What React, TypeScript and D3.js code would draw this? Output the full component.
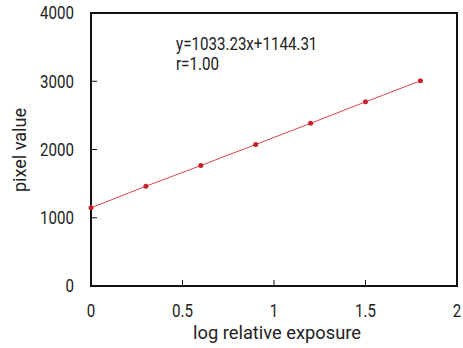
import React from 'react';
import * as d3 from 'd3';

// measured points
const exposure = [0, 0.3, 0.6, 0.9, 1.2, 1.5, 1.8];
const pixelValue = [1145, 1462, 1765, 2073, 2384, 2698, 3006];
const xTicks = [0, 0.5, 1, 1.5, 2];
const yTicks = [0, 1000, 2000, 3000, 4000];
const fitText = ['y=1033.23x+1144.31', 'r=1.00'];

const font = "Roboto, 'DejaVu Sans Condensed', sans-serif";
const ink = '#222';

// condensed-looking text: squeeze roboto horizontally
function Label({ x, y, anchor = 'start', dy, children }: any) {
    return (
        <text transform={`translate(${x},${y}) scale(0.84,1)`} dy={dy} textAnchor={anchor}
            fontSize={18} fill={ink}>{children}</text>
    );
}

function App() {
    const left = 91, right = 457, top = 13, bottom = 286;

    const x = d3.scaleLinear().domain([0, 2]).range([left, right]);
    const y = d3.scaleLinear().domain([0, 4000]).range([bottom, top]);

    const line = d3.line<number>()
        .x((d, i) => x(exposure[i]))
        .y(d => y(d));

    return (
        <svg width={463} height={348} style={{ position: 'absolute', left: 0, top: 0, fontFamily: font }}>
            <rect x={0} y={0} width={463} height={348} fill="#fff" />

            {/* frame */}
            <rect x={left} y={top} width={right - left} height={bottom - top}
                fill="none" stroke="#111" strokeWidth={2} />

            {/* ticks, drawn inward */}
            {yTicks.map(t => (
                <g key={'y' + t}>
                    <line x1={left} x2={left + 6} y1={y(t)} y2={y(t)} stroke="#111" strokeWidth={1} />
                    <Label x={74} y={y(t)} dy="0.36em" anchor="end">{t}</Label>
                </g>
            ))}
            {xTicks.map(t => (
                <g key={'x' + t}>
                    <line x1={x(t)} x2={x(t)} y1={bottom} y2={bottom - 6} stroke="#111" strokeWidth={1} />
                    <Label x={x(t)} y={317} anchor="middle">{t}</Label>
                </g>
            ))}

            <text x={193} y={339} textLength={168} lengthAdjust="spacingAndGlyphs"
                fontSize={18} fill={ink}>log relative exposure</text>
            <text transform="translate(26,192) rotate(-90)" textLength={84} lengthAdjust="spacingAndGlyphs"
                fontSize={18} fill={ink}>pixel value</text>

            {/* data */}
            <path d={line(pixelValue) || ''} fill="none" stroke="#d9464b" strokeWidth={1} />
            {pixelValue.map((v, i) => (
                <circle key={i} cx={x(exposure[i])} cy={y(v)} r={2.5} fill="#c4232b" />
            ))}

            {fitText.map((s, i) => (
                <Label key={s} x={176} y={50 + i * 20}>{s}</Label>
            ))}
        </svg>
    );
}

export default App;
